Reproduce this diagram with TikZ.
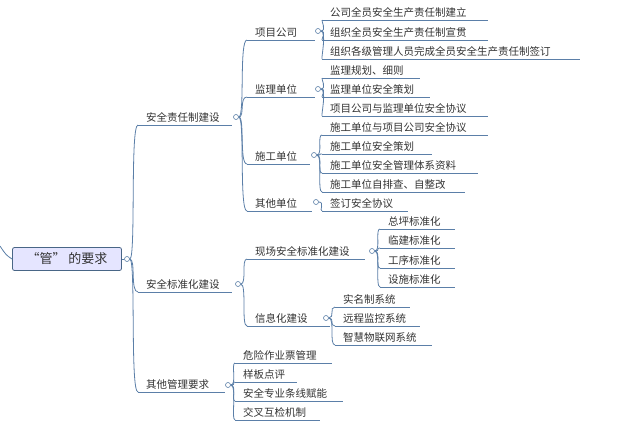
\documentclass[tikz,border=0pt]{standalone}
\usepackage{fontspec}
\setmainfont{Noto Sans CJK SC}
\usepackage{tikz}
\usetikzlibrary{positioning}
\definecolor{mapline}{HTML}{5B7FA8}
\definecolor{maptext}{HTML}{333333}
\tikzset{
  link/.style={draw=mapline, line width=0.8pt},
  item/.style={anchor=south west, inner sep=0pt, text=maptext, font=\fontsize{10.5}{12}\selectfont},
  knob/.style={circle, draw=mapline, fill=white, line width=0.6pt, inner sep=0pt, minimum size=5pt},
  rootbox/.style={draw=mapline!80!black, fill=blue!10!white, rounded corners=2pt, line width=0.8pt,
    minimum width=109pt, minimum height=23pt, text=maptext, font=\fontsize{13}{15}\selectfont}
}
% curved connector from a knob to the start of an underline
\newcommand{\branch}[2]{\draw[link] (#1) .. controls ($(#1)+(9,0)$) and ($(#1|-#2)+(3,0)$) .. (#2);}
\usetikzlibrary{calc}
\begin{document}
\begin{tikzpicture}[x=1pt,y=-1pt]
  \useasboundingbox (0,0) rectangle (640,432);
  \fill[white] (0,0) rectangle (640,432);

  % root
  \node[rootbox] (root) at (67,259) {“管”\ 的要求};
  \draw[link] (root.west) .. controls (6,255) .. (0,246);
  \node[knob] (k0) at (127,259) {};
  \draw[link] (root.east) -- (k0);

  % items: name / underline start / underline y / underline end / text
  \foreach \n/\s/\u/\e/\t in {
      a/138/125/232/安全责任制建设, b/138/292/232/安全标准化建设, c/138/392/225/其他管理要求,
      a1/247/40/315/项目公司, a2/247/97/315/监理单位, a3/247/164/310/施工单位, a4/247/211/312/其他单位,
      a11/322/20/488/公司全员安全生产责任制建立, a12/322/40/488/组织全员安全生产责任制宣贯,
      a13/322/59/580/组织各级管理人员完成全员安全生产责任制签订,
      a21/322/78/420/监理规划、细则, a22/322/97/430/监理单位安全策划, a23/322/116/488/项目公司与监理单位安全协议,
      a31/322/135/488/施工单位与项目公司安全协议, a32/322/154/432/施工单位安全策划,
      a33/322/173/478/施工单位安全管理体系资料, a34/322/192/465/施工单位自排查、自整改,
      a41/322/211/408/签订安全协议,
      b1/247/259/365/现场安全标准化建设, b2/247/326/330/信息化建设,
      b11/380/229/455/总坪标准化, b12/380/248/455/临建标准化, b13/380/268/455/工序标准化, b14/380/287/455/设施标准化,
      b21/335/307/410/实名制系统, b22/335/326/420/远程监控系统, b23/335/345/432/智慧物联网系统,
      c1/235/363/332/危险作业票管理, c2/235/382/297/样板点评, c3/235/401/343/安全专业条线赋能, c4/235/420/320/交叉互检机制}{
    \coordinate (\n-s) at (\s,\u);
    \node[item] (\n) at (\s+8,\u-2) {\t};
    \draw[link] (\n-s) -- (\e,\u);
  }

  % knobs
  \foreach \n/\x/\y in {a/236/117, b/238/284, c/228/385, a1/318/31, a2/318/89, a3/314/155, a4/316/202,
      b1/372/251, b2/326/318}{
    \node[knob] (k\n) at (\x,\y) {};
  }

  % connectors
  \foreach \p/\c in {0/a, 0/b, 0/c, a/a1, a/a2, a/a3, a/a4, b/b1, b/b2,
      a1/a11, a1/a12, a1/a13, a2/a21, a2/a22, a2/a23, a3/a31, a3/a32, a3/a33, a3/a34, a4/a41,
      b1/b11, b1/b12, b1/b13, b1/b14, b2/b21, b2/b22, b2/b23, c/c1, c/c2, c/c3, c/c4}{
    \branch{k\p}{\c-s}
  }
\end{tikzpicture}
\end{document}
